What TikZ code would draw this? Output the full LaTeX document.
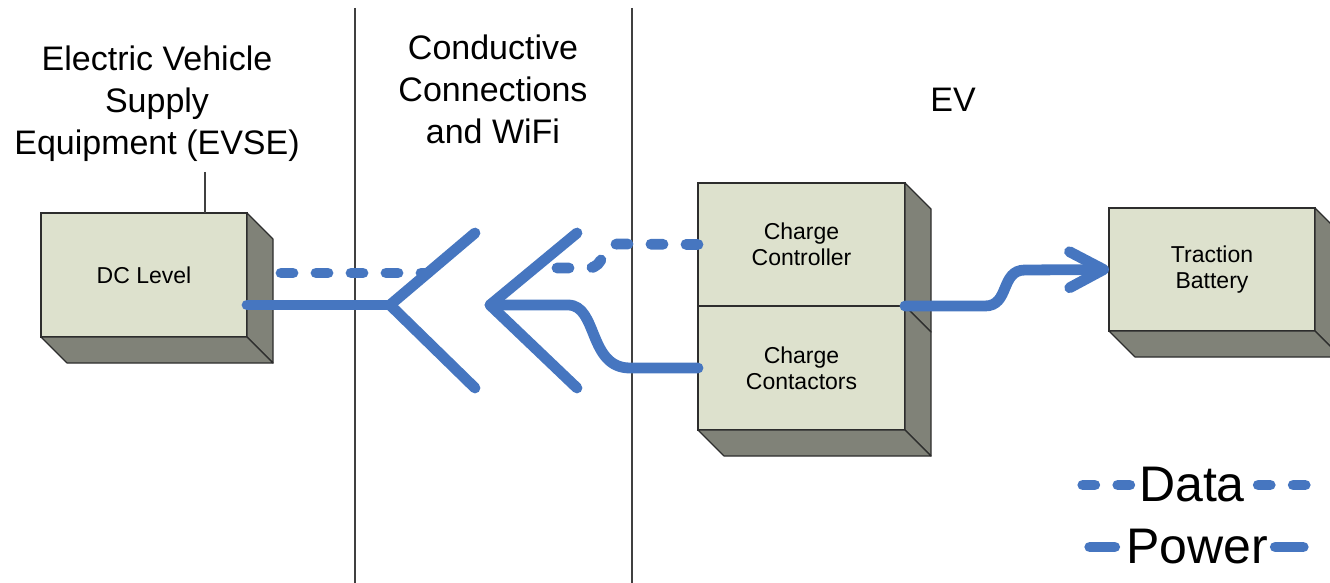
\documentclass[tikz,border=0pt]{standalone}
\usepackage{fontspec}
\setmainfont{Liberation Sans}
\usetikzlibrary{arrows.meta, positioning}
\definecolor{boxface}{RGB}{221,225,205}
\definecolor{boxside}{RGB}{128,130,120}
\definecolor{boxedge}{RGB}{45,45,45}
\definecolor{linkblue}{RGB}{70,118,192}

\begin{document}
\begin{tikzpicture}[
    x=0.5pt, y=-0.5pt,
    unit/.style={rectangle, draw=boxedge, fill=boxface, line width=0.6pt,
                 font=\fontsize{11.5}{13}\selectfont, align=center,
                 inner sep=0pt, outer sep=0pt},
    side/.style={fill=boxside, draw=boxedge, line width=0.6pt,
                 line join=round},
    heading/.style={font=\fontsize{17}{21}\selectfont, align=center},
    legend/.style={font=\fontsize{25}{30}\selectfont, inner sep=0pt},
    divider/.style={line width=0.6pt, color=black!75},
    power/.style={line width=5.4pt, color=linkblue, line cap=round,
                  line join=round},
    data/.style={power, dash pattern=on 6pt off 11.5pt},
]
\useasboundingbox (0,0) rectangle (1330,583);

% ======================================================
% Zone headings and the two dividing lines
% ======================================================
\node[heading] (evse) at (157,104)
     {Electric Vehicle\\Supply\\Equipment (EVSE)};
\node[heading] (cond) at (493,89) {Conductive\\Connections\\and WiFi};
\node[heading] (ev) at (953,100) {EV};

\draw[divider] (355,8) -- (355,583);
\draw[divider] (632,8) -- (632,583);

% ======================================================
% Equipment blocks (front faces), 3D sides added below
% ======================================================
\node[unit, minimum width=103pt, minimum height=62pt] (dc) at (144,275)
     {DC Level};
\node[unit, minimum width=103.5pt, minimum height=61.5pt] (ctrl)
     at (801.5,244.5) {Charge\\Controller};
\node[unit, minimum width=103.5pt, minimum height=62pt, below=0pt of ctrl]
     (cont) {Charge\\Contactors};
\node[unit, minimum width=103pt, minimum height=61.5pt] (batt)
     at (1212,269.5) {Traction\\Battery};

% right-hand faces
\foreach \b in {dc,ctrl,cont,batt} {
  \draw[side] (\b.north east) -- ++(26,26)
        -- ([shift={(26,26)}]\b.south east) -- (\b.south east) -- cycle;
}
% bottom faces
\foreach \b in {dc,cont,batt} {
  \draw[side] (\b.south west) -- ++(26,26)
        -- ([shift={(26,26)}]\b.south east) -- (\b.south east) -- cycle;
}

% label lead for the EVSE block
\coordinate (evsetag) at (205,172);
\draw[divider] (evsetag) -- (evsetag |- dc.north);

% ======================================================
% Plug halves: EVSE side (left) and EV inlet (right)
% ======================================================
\coordinate (plugL)    at (390,305);
\coordinate (plugLup)  at (475,233);
\coordinate (plugLdn)  at (475,388);
\coordinate (plugLdat) at (428,273);
\coordinate (plugR)    at (490,305);
\coordinate (plugRup)  at (577,233);
\coordinate (plugRdn)  at (577,388);
\coordinate (plugRdat) at (535,268);

\draw[power] (plugLup) -- (plugL) -- (plugLdn);
\draw[power] (plugRup) -- (plugR) -- (plugRdn);

% EVSE -> plug
\draw[power] (dc.east |- plugL) -- (plugL);
\draw[data] ([shift={(34,-2)}]dc.east) -- (plugLdat);

% inlet -> charge controller / contactors
\draw[data] (ctrl.west) -- (618,244)
     .. controls (600,244) and (606,268) .. (588,268) -- (plugRdat);
\draw[power] (cont.west) -- (630,368)
     .. controls (588,368) and (598,305) .. (568,305) -- (plugR);

% contactors -> traction battery
\draw[power, -{Straight Barb[length=17pt, width=18pt, round]}]
     (ctrl.south east) -- (985,306)
     .. controls (1010,306) and (1000,270) .. (1025,270) -- (batt.west);

% ======================================================
% Legend
% ======================================================
\node[legend] (datakey) at (1192,485) {Data};
\draw[data] ([xshift=-4.5pt]datakey.west) -- ++(-47,0);
\draw[data] ([xshift=6.5pt]datakey.east) -- ++(47,0);

\node[legend] (powerkey) at (1197,547) {Power};
\draw[power] ([xshift=-5.5pt]powerkey.west) -- ++(-25,0);
\draw[power] ([xshift=3.5pt]powerkey.east) -- ++(28,0);

\end{tikzpicture}
\end{document}
